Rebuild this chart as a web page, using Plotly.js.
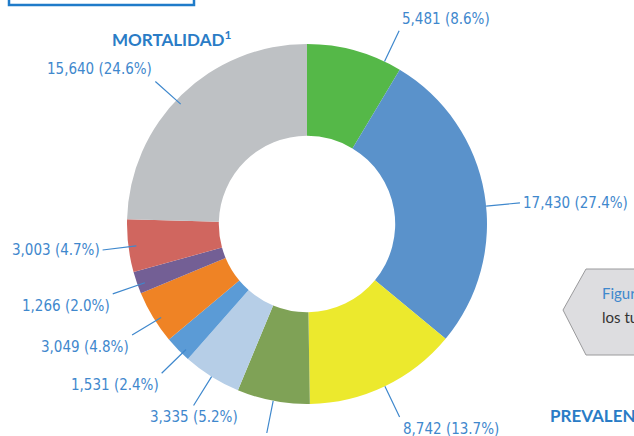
<!DOCTYPE html>
<html><head><meta charset="utf-8">
<script src="https://cdn.plot.ly/plotly-3.0.1.min.js"></script>
<style>html,body{margin:0;padding:0;background:#fff;overflow:hidden;} #chart{width:634px;height:436px;}</style>
</head><body><div id="chart"></div>
<script>
// ---- data (clockwise from 12 o'clock) ----
const values   = [5481, 17430, 8742, 4150, 3335, 1531, 3049, 1266, 3003, 15640];
const percents = [8.6, 27.4, 13.7, 6.5, 5.2, 2.4, 4.8, 2.0, 4.7, 24.6];
const colors   = ['#55b848', '#5a92cb', '#ece92d', '#7fa256', '#b6cee7',
                  '#5b9bd6', '#ef8325', '#735f95', '#d0665f', '#bec1c4'];
const title    = 'MORTALIDAD<sup>1</sup>';

function fmt(v){ return String(v).replace(/\B(?=(\d{3})+(?!\d))/g, ','); }
const labels = values.map((v,i)=> fmt(v) + ' (' + percents[i].toFixed(1) + '%)');

// ---- layout / styling constants (pixels, degrees) ----
const W = 634, H = 436, CX = 307, CY = 224, R = 180, L = 34;
const labelAngleNudge = [10, 4, 0, 0, 0, 0, 0, 0, 0, -4];
const px = x => x / W, py = y => 1 - y / H;
const labelColor = '#3f88cd';
const labelFont = {family: 'Liberation Sans Narrow, DejaVu Sans Condensed, Lato, sans-serif', size: 15, color: labelColor};

const total = values.reduce((a,b)=>a+b,0);
let cum = 0;
const annotations = [];
values.forEach((v,i)=>{
  const mid = (cum + v/2) / total * 2 * Math.PI + labelAngleNudge[i] * Math.PI / 180; cum += v;
  const s = Math.sin(mid), c = Math.cos(mid);
  const xa = s > 0.2 ? 'left' : (s < -0.55 ? 'right' : 'center');
  annotations.push({
    xref:'paper', yref:'paper', x: px(CX + R*s), y: py(CY - R*c),
    ax: L*s, ay: -L*c, axref:'pixel', ayref:'pixel',
    text: labels[i], showarrow: true, arrowhead: 0, arrowwidth: 1.2, arrowcolor: labelColor,
    standoff: 0, startstandoff: 0, borderpad: 2,
    xanchor: xa, xshift: xa === 'right' ? 8 : 0,
    yanchor: c > 0.3 ? 'bottom' : (c < -0.3 ? 'top' : 'middle'),
    font: labelFont
  });
});

const headFont = {family: 'Lato, Open Sans, sans-serif', size: 17, color: '#2a7cc6', weight: 'bold'};
annotations.push({xref:'paper', yref:'paper', x: px(171), y: py(38), text: '<b>'+title+'</b>', showarrow:false,
  xanchor:'center', yanchor:'middle', font: headFont});
annotations.push({xref:'paper', yref:'paper', x: px(548), y: py(415), text: '<b>PREVALENCIA</b>', showarrow:false,
  xanchor:'left', yanchor:'middle', font: headFont});
annotations.push({xref:'paper', yref:'paper', x: px(600), y: py(293), text: 'Figura', showarrow:false,
  xanchor:'left', yanchor:'middle', font:{family:'Lato, sans-serif', size:15, color:'#3f88cd'}});
annotations.push({xref:'paper', yref:'paper', x: px(600), y: py(317), text: 'los tumores', showarrow:false,
  xanchor:'left', yanchor:'middle', font:{family:'Lato, sans-serif', size:15, color:'#333333'}});

const hex = [[563,310],[586,269],[650,269],[650,355],[586,355]];
const hexPath = 'M ' + hex.map(p=>px(p[0])+','+py(p[1])).join(' L ') + ' Z';

const shapes = [
  {type:'rect', xref:'paper', yref:'paper', x0: px(9), x1: px(194), y0: py(5), y1: py(-10),
   line:{color:'#1f7bc9', width:2.5}, fillcolor:'rgba(0,0,0,0)'},
  {type:'path', xref:'paper', yref:'paper', path: hexPath, fillcolor:'#dddde0', line:{color:'#9a9a9c', width:1}}
];

const trace = {
  type:'pie', values: values, labels: labels, sort:false, direction:'clockwise', rotation:0,
  hole: 0.49, textinfo:'none', hoverinfo:'skip', showlegend:false,
  marker:{colors: colors, line:{width:0}},
  domain:{x:[px(CX-R), px(CX+R)], y:[py(CY+R), py(CY-R)]}
};

Plotly.newPlot('chart', [trace], {
  width: W, height: H, margin:{l:0,r:0,t:0,b:0},
  paper_bgcolor:'#ffffff', plot_bgcolor:'#ffffff',
  annotations: annotations, shapes: shapes
}, {staticPlot:true, displayModeBar:false});
</script></body></html>
